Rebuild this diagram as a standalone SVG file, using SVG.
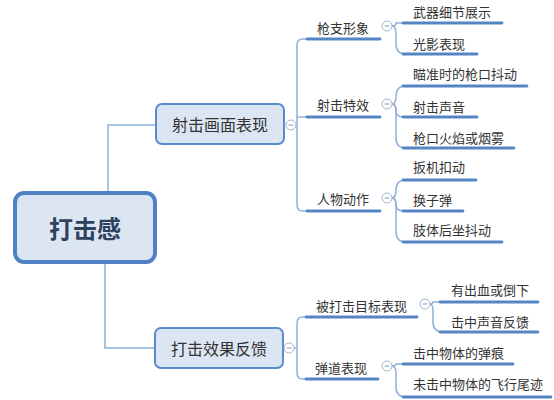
<svg xmlns="http://www.w3.org/2000/svg" width="554" height="400" viewBox="0 0 554 400">
<style>
.bg{fill:#ffffff}
.conn{fill:none;stroke:#8fb0d9;stroke-width:1.5}
.ul{fill:none;stroke:#5585c4;stroke-width:2.8;stroke-linecap:round}
.t{font-family:"Microsoft YaHei","Noto Sans CJK SC",sans-serif;font-size:13px;fill:#333333;dominant-baseline:central}
.mt{font-family:"Microsoft YaHei","Noto Sans CJK SC",sans-serif;font-size:16px;fill:#333333;text-anchor:middle;dominant-baseline:central}
.ct{font-family:"Microsoft YaHei","Noto Sans CJK SC",sans-serif;font-size:24px;font-weight:bold;fill:#2e4260;text-anchor:middle;dominant-baseline:central}
.box{fill:#dce6f2;stroke:#5b8bcd;stroke-width:2}
.cbox{fill:#dce6f2;stroke:#4f81c4;stroke-width:4}
.tog circle{fill:#ffffff;stroke:#a3b3cc;stroke-width:1}
.tog line{stroke:#8a9ab5;stroke-width:1}
</style>
<defs>
<g id="toggle" class="tog"><circle cx="0" cy="0" r="5"/><line x1="-2.5" y1="0" x2="2.5" y2="0"/></g>
</defs>
<rect class="bg" x="0" y="0" width="554" height="400"/>

<g id="connectors">
<path class="conn" d="M108 192 V125 H156"/>
<path class="conn" d="M105 262 V348 H155"/>
<path class="conn" d="M286 125 H297"/>
<path class="conn" d="M297 125 V45 Q297 39 303 39 H307"/>
<path class="conn" d="M297 117 H307"/>
<path class="conn" d="M297 125 V205 Q297 211 303 211 H307"/>
<path class="conn" d="M284 348 H297"/>
<path class="conn" d="M297 348 V323 Q297 317 303 317 H306"/>
<path class="conn" d="M297 348 V373 Q297 379 303 379 H306"/>
<path class="conn" d="M392 26 Q396 26 396 23 Q396 23 403 23"/>
<path class="conn" d="M392 26 Q396 26 396 34 V44 Q396 54 406 54"/>
<path class="conn" d="M392 104 Q396 104 396 96 Q396 86 406 86"/>
<path class="conn" d="M392 104 Q396 104 396 110 Q396 117 403 117"/>
<path class="conn" d="M392 104 Q396 104 396 112 V138 Q396 148 406 148"/>
<path class="conn" d="M392 198 Q396 198 396 190 Q396 180 406 180"/>
<path class="conn" d="M392 198 Q396 198 396 204 Q396 211 403 211"/>
<path class="conn" d="M392 198 Q396 198 396 206 V232 Q396 242 406 242"/>
<path class="conn" d="M430 304 Q433 304 433 302 Q433 302 440 302"/>
<path class="conn" d="M430 304 Q433 304 433 312 V322 Q433 332 443 332"/>
<path class="conn" d="M392 366 Q396 366 396 364 Q396 364 403 364"/>
<path class="conn" d="M392 366 Q396 366 396 374 V387 Q396 397 406 397"/>
</g>

<g id="root">
<rect class="cbox" x="15" y="193" width="140" height="69" rx="9"/>
<text class="ct" x="85" y="227">打击感</text>
</g>

<g id="n-shejihuamian">
<rect class="box" x="156" y="104" width="128" height="40" rx="6"/>
<text class="mt" x="220" y="124">射击画面表现</text>
<use href="#toggle" x="291" y="125"/>
</g>

<g id="n-dajixiaoguo">
<rect class="box" x="155" y="328" width="128" height="40" rx="6"/>
<text class="mt" x="219" y="348">打击效果反馈</text>
<use href="#toggle" x="289" y="348"/>
</g>

<g id="n-qiangzhi">
<line class="ul" x1="307" y1="39" x2="380" y2="39"/>
<text class="t" x="317" y="27">枪支形象</text>
<use href="#toggle" x="387" y="26"/>
</g>
<g id="n-texiao">
<line class="ul" x1="307" y1="117" x2="380" y2="117"/>
<text class="t" x="317" y="104">射击特效</text>
<use href="#toggle" x="387" y="104"/>
</g>
<g id="n-renwu">
<line class="ul" x1="307" y1="211" x2="380" y2="211"/>
<text class="t" x="317" y="198">人物动作</text>
<use href="#toggle" x="387" y="198"/>
</g>
<g id="n-beidaji">
<line class="ul" x1="306" y1="317" x2="417" y2="317"/>
<text class="t" x="316" y="305">被打击目标表现</text>
<use href="#toggle" x="425" y="304"/>
</g>
<g id="n-dandao">
<line class="ul" x1="306" y1="379" x2="378" y2="379"/>
<text class="t" x="315" y="367">弹道表现</text>
<use href="#toggle" x="387" y="366"/>
</g>

<g id="l-wuqi"><line class="ul" x1="403" y1="23" x2="502" y2="23"/><text class="t" x="413" y="11">武器细节展示</text></g>
<g id="l-guangying"><line class="ul" x1="403" y1="54" x2="477" y2="54"/><text class="t" x="413" y="43">光影表现</text></g>
<g id="l-miaozhun"><line class="ul" x1="403" y1="86" x2="527" y2="86"/><text class="t" x="413" y="73">瞄准时的枪口抖动</text></g>
<g id="l-shengyin"><line class="ul" x1="403" y1="117" x2="477" y2="117"/><text class="t" x="413" y="106">射击声音</text></g>
<g id="l-huoyan"><line class="ul" x1="403" y1="148" x2="514" y2="148"/><text class="t" x="413" y="137">枪口火焰或烟雾</text></g>
<g id="l-banji"><line class="ul" x1="403" y1="180" x2="476" y2="180"/><text class="t" x="413" y="166">扳机扣动</text></g>
<g id="l-huanzidan"><line class="ul" x1="403" y1="211" x2="463" y2="211"/><text class="t" x="413" y="199">换子弹</text></g>
<g id="l-zhiti"><line class="ul" x1="403" y1="242" x2="502" y2="242"/><text class="t" x="413" y="229">肢体后坐抖动</text></g>
<g id="l-chuxue"><line class="ul" x1="440" y1="302" x2="538" y2="302"/><text class="t" x="451" y="289">有出血或倒下</text></g>
<g id="l-fankui"><line class="ul" x1="440" y1="332" x2="538" y2="332"/><text class="t" x="451" y="321">击中声音反馈</text></g>
<g id="l-danhen"><line class="ul" x1="403" y1="364" x2="513" y2="364"/><text class="t" x="413" y="352">击中物体的弹痕</text></g>
<g id="l-weiji"><line class="ul" x1="403" y1="397" x2="551" y2="397"/><text class="t" x="413" y="383">未击中物体的飞行尾迹</text></g>
</svg>
